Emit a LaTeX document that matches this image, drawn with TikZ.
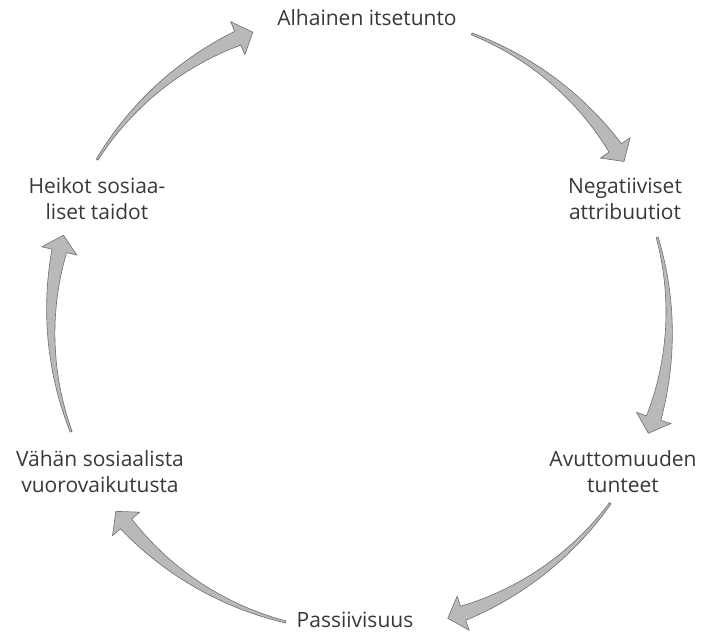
\documentclass[tikz,border=0pt]{standalone}
\usepackage{fontspec}
\setmainfont{Open Sans}
\usepackage{tikz}
\definecolor{labelgray}{HTML}{383838}
\definecolor{arrowgray}{HTML}{B9B9B9}
\definecolor{edgegray}{HTML}{6E6E6E}
\tikzset{
  lbl/.style={align=center, text=labelgray, inner sep=0pt,
    font=\fontsize{21}{26}\selectfont},
  cyclearrow/.style={fill=arrowgray, draw=edgegray, line width=0.6pt,
    line join=miter}
}
\newcommand{\cycr}{309}
\newcommand{\cycarrow}[2]{%
  \filldraw[cyclearrow]
    plot[domain=0:1, samples=40] ({#1+(#2+3-#1)*\x}:{\cycr+1+3*\x+3.5*\x*\x})
    -- ({#2+3}:{\cycr+18}) -- ({#2}:{\cycr}) -- ({#2+3}:{\cycr-18})
    -- plot[domain=1:0, samples=40] ({#1+(#2+3-#1)*\x}:{\cycr-1-3*\x-3.5*\x*\x})
    -- cycle;}

\begin{document}
\begin{tikzpicture}[x=1pt, y=1pt]
\useasboundingbox (-360,-313) rectangle (347,322);

\node[lbl] (alhainen) at (7,304) {Alhainen itsetunto};
\node[lbl] (negat) at (265,123) {Negatiiviset\\attribuutiot};
\node[lbl] (avutt) at (263,-150) {Avuttomuuden\\tunteet};
\node[lbl] (passiiv) at (-5,-298) {Passiivisuus};
\node[lbl] (vahan) at (-260,-150) {Vähän sosiaalista\\vuorovaikutusta};
\node[lbl] (heikot) at (-263,123) {Heikot sosiaa-\\liset taidot};

\cycarrow{148.3}{110.3}
\cycarrow{68.8}{31.3}
\cycarrow{15.9}{-21.1}
\cycarrow{-35.9}{-73.5}
\cycarrow{256.1}{217.8}
\cycarrow{200.8}{163.7}
\end{tikzpicture}
\end{document}
